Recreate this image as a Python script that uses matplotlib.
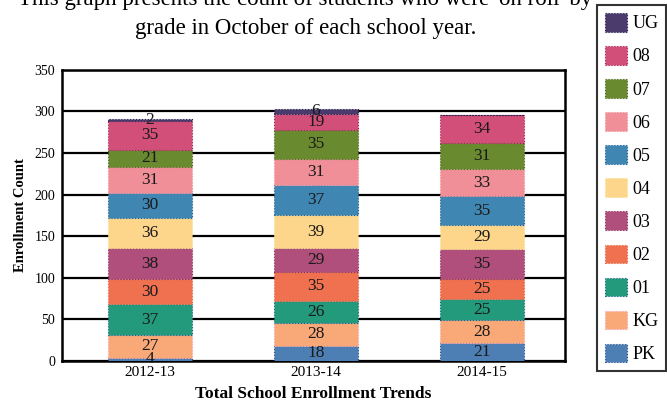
import matplotlib
matplotlib.use("Agg")
import matplotlib.pyplot as plt
from matplotlib.patches import Patch
import numpy as np

years = ["2012-13", "2013-14", "2014-15"]
grades = ["PK", "KG", "01", "02", "03", "04", "05", "06", "07", "08", "UG"]
pk = [4, 18, 21]
kg = [27, 28, 28]
g01 = [37, 26, 25]
g02 = [30, 35, 25]
g03 = [38, 29, 35]
g04 = [36, 39, 29]
g05 = [30, 37, 35]
g06 = [31, 31, 33]
g07 = [21, 35, 31]
g08 = [35, 19, 34]
ug = [2, 6, 0]
series = [pk, kg, g01, g02, g03, g04, g05, g06, g07, g08, ug]
colors = ["#4d7fb5", "#f9a878", "#239a7c", "#f0714f", "#b04f7b", "#fdd68c",
          "#3f87b2", "#f08f98", "#6a8a2f", "#d24f7a", "#4b3b6d"]
edges = ["#2c4f86", "#f4a0b0", "#1c5f86", "#e06a40", "#8a2f5a", "#f8e080",
         "#1f5f8f", "#f0909a", "#506820", "#a02050", "#2a2050"]

plt.rcParams["font.family"] = ["Liberation Serif", "DejaVu Serif"]

fig = plt.figure(figsize=(6.67, 4.11), dpi=100)
ax = fig.add_axes([0.093, 0.122, 0.754, 0.708])

x = np.arange(len(years))
bottom = np.zeros(len(years))
for vals, c, ec, g in zip(series, colors, edges, grades):
    vals = np.array(vals, dtype=float)
    ax.bar(x, vals, 0.51, bottom=bottom, color=c, edgecolor=ec, linewidth=0.8,
           linestyle=":", zorder=3, label=g)
    for xi, b, v in zip(x, bottom, vals):
        if v > 0:
            ax.text(xi, b + v / 2, f"{int(v)}", ha="center", va="center",
                    fontsize=12.5, color="#1a1a1a", zorder=4)
    bottom += vals

ax.set_xlim(-0.53, 2.5)
ax.set_ylim(0, 350)
ax.set_yticks(range(0, 351, 50))
ax.set_xticks(x)
ax.set_xticklabels(years, fontsize=11)
ax.tick_params(axis="y", labelsize=10, length=0, pad=5)
ax.tick_params(axis="x", length=0, pad=4)
ax.yaxis.grid(True, color="black", linewidth=1.6, zorder=0)
ax.set_axisbelow(True)
for s in ax.spines.values():
    s.set_linewidth(1.8)
    s.set_color("black")
ax.set_ylabel("Enrollment Count", fontsize=10.5, fontweight="bold", labelpad=5)
ax.set_xlabel("Total School Enrollment Trends", fontsize=12.5, fontweight="bold", labelpad=5)

fig.text(0.458, 1.0, "This graph presents the count of students who were 'on roll' by",
         ha="center", va="center", fontsize=16.5)
fig.text(0.458, 0.93, "grade in October of each school year.",
         ha="center", va="center", fontsize=16.5)

handles = [Patch(facecolor=c, edgecolor=ec, linestyle=":", linewidth=0.8)
           for c, ec in zip(colors, edges)][::-1]
labels = grades[::-1]
leg = fig.legend(handles, labels, loc="upper left", bbox_to_anchor=(0.895, 0.988),
                 fontsize=13, frameon=True, fancybox=False, edgecolor="black",
                 handlelength=1.2, handleheight=1.2, handletextpad=0.3,
                 labelspacing=0.76, borderpad=0.45, borderaxespad=0)
leg.get_frame().set_linewidth(1.5)

fig.savefig("out.png", dpi=100)
